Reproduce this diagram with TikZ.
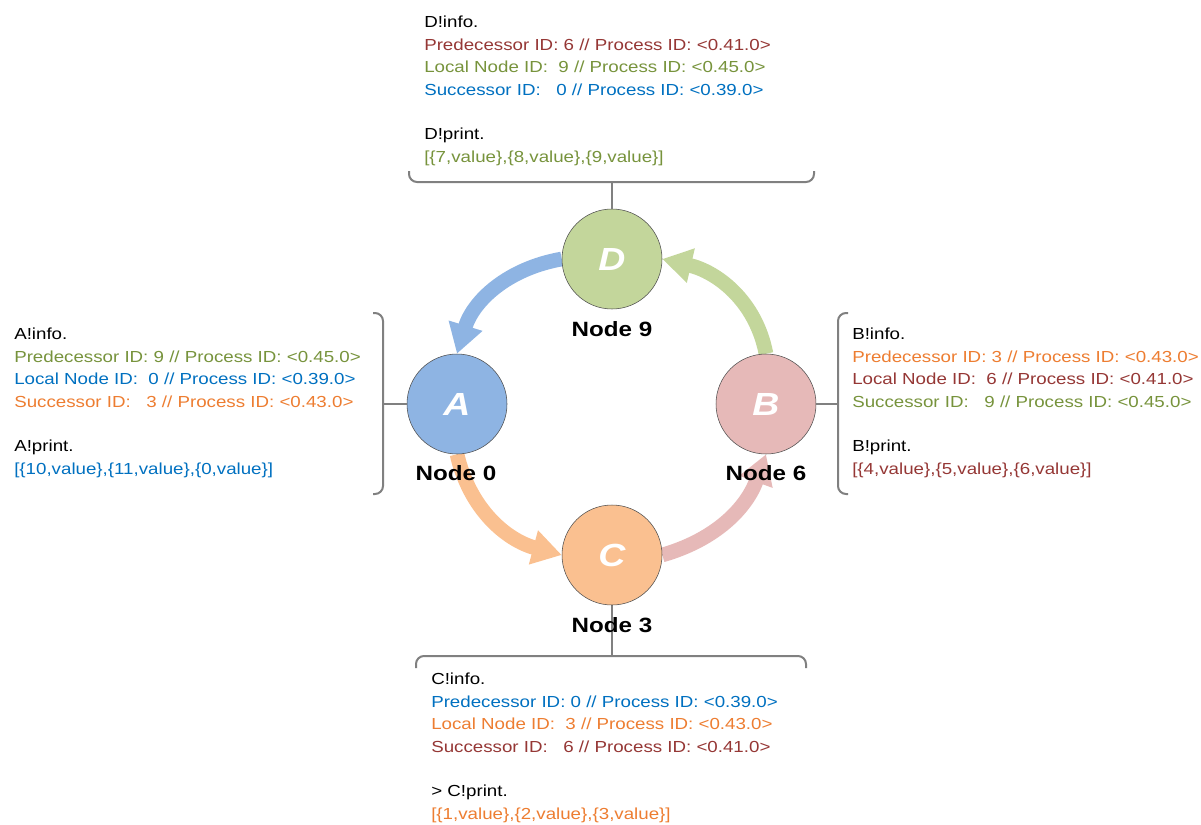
\documentclass[tikz,border=0pt]{standalone}
\usepackage{fontspec}
\setmainfont{Liberation Sans}[FakeStretch=1.17]
\usepackage{xcolor}
\usetikzlibrary{positioning,arrows.meta,backgrounds}
\definecolor{fillA}{HTML}{8EB4E3}
\definecolor{fillB}{HTML}{E6B9B8}
\definecolor{fillC}{HTML}{FAC090}
\definecolor{fillD}{HTML}{C3D69B}
\definecolor{tred}{HTML}{953735}
\definecolor{tgreen}{HTML}{77933C}
\definecolor{tblue}{HTML}{0070C0}
\definecolor{torange}{HTML}{ED7D31}
\tikzset{
  proc/.style ={draw=black!70, circle, thin, minimum size=75pt, inner sep=0pt, text=white, font=\fontsize{24}{24}\selectfont\bfseries\itshape},
  lbl/.style  ={font=\fontsize{15.5}{18}\selectfont\bfseries, inner sep=0pt},
  info/.style ={anchor=north west, align=left, inner sep=0pt, font=\fontsize{12}{16.8}\selectfont},
  brk/.style  ={draw=black!50, line width=1.5pt, rounded corners=6pt},
  ring/.style ={line width=11pt, -{Triangle[length=22pt,width=25pt]}},
}

\begin{document}
\begin{tikzpicture}[x=0.75pt, y=-0.75pt]
  \useasboundingbox (0,0) rectangle (1201,824);

  \node[proc, fill=fillD] (D) at (612,259) {D};
  \node[proc, fill=fillA] (A) at (457,404) {A};
  \node[proc, fill=fillB] (B) at (766,404) {B};
  \node[proc, fill=fillC] (C) at (612,555) {C};

  \node[lbl] (n9) at (612,329) {Node 9};
  \node[lbl] (n0) at (456,473) {Node 0};
  \node[lbl] (n6) at (766,473) {Node 6};
  \node[lbl] (n3) at (612,625) {Node 3};

  \begin{scope}[on background layer]
    \draw[ring, fillA] (D.west) to[out=190, in=73] (A.north);
    \draw[ring, fillD] (B.north) to[out=101, in=347] (D.east);
    \draw[ring, fillC] (A.south) to[out=283, in=165] (C.west);
    \draw[ring, fillB] (C.east) to[out=16, in=250] (B.south);
    \draw[brk] (C.south) -- (612,656);
  \end{scope}

  \coordinate (dbr) at (612,182);
  \coordinate (abr) at (383,404);
  \coordinate (bbr) at (838,404);
  \draw[brk] (409,171) -- (409,182) -- (814,182) -- (814,171);
  \draw[brk] (373,313) -- (383,313) -- (383,494) -- (373,494);
  \draw[brk] (848,313) -- (838,313) -- (838,494) -- (848,494);
  \draw[brk] (416,668) -- (416,656) -- (806,656) -- (806,668);
  \draw[brk] (D.north) -- (dbr);
  \draw[brk] (A.west) -- (abr);
  \draw[brk] (B.east) -- (bbr);

  \node[info] (dinfo) at (424,16) {D!info.\\
    \textcolor{tred}{Predecessor ID: 6 // Process ID: <0.41.0>}\\
    \textcolor{tgreen}{Local Node ID:\ \ 9 // Process ID: <0.45.0>}\\
    \textcolor{tblue}{Successor ID:\ \ \ 0 // Process ID: <0.39.0>}\\[16.8pt]
    D!print.\\
    \textcolor{tgreen}{[\{7,value\},\{8,value\},\{9,value\}]}};
  \node[info] (ainfo) at (14,328) {A!info.\\
    \textcolor{tgreen}{Predecessor ID: 9 // Process ID: <0.45.0>}\\
    \textcolor{tblue}{Local Node ID:\ \ 0 // Process ID: <0.39.0>}\\
    \textcolor{torange}{Successor ID:\ \ \ 3 // Process ID: <0.43.0>}\\[16.8pt]
    A!print.\\
    \textcolor{tblue}{[\{10,value\},\{11,value\},\{0,value\}]}};
  \node[info] (binfo) at (852,328) {B!info.\\
    \textcolor{torange}{Predecessor ID: 3 // Process ID: <0.43.0>}\\
    \textcolor{tred}{Local Node ID:\ \ 6 // Process ID: <0.41.0>}\\
    \textcolor{tgreen}{Successor ID:\ \ \ 9 // Process ID: <0.45.0>}\\[16.8pt]
    B!print.\\
    \textcolor{tred}{[\{4,value\},\{5,value\},\{6,value\}]}};
  \node[info] (cinfo) at (431,673) {C!info.\\
    \textcolor{tblue}{Predecessor ID: 0 // Process ID: <0.39.0>}\\
    \textcolor{torange}{Local Node ID:\ \ 3 // Process ID: <0.43.0>}\\
    \textcolor{tred}{Successor ID:\ \ \ 6 // Process ID: <0.41.0>}\\[16.8pt]
    > C!print.\\
    \textcolor{torange}{[\{1,value\},\{2,value\},\{3,value\}]}};
\end{tikzpicture}
\end{document}
